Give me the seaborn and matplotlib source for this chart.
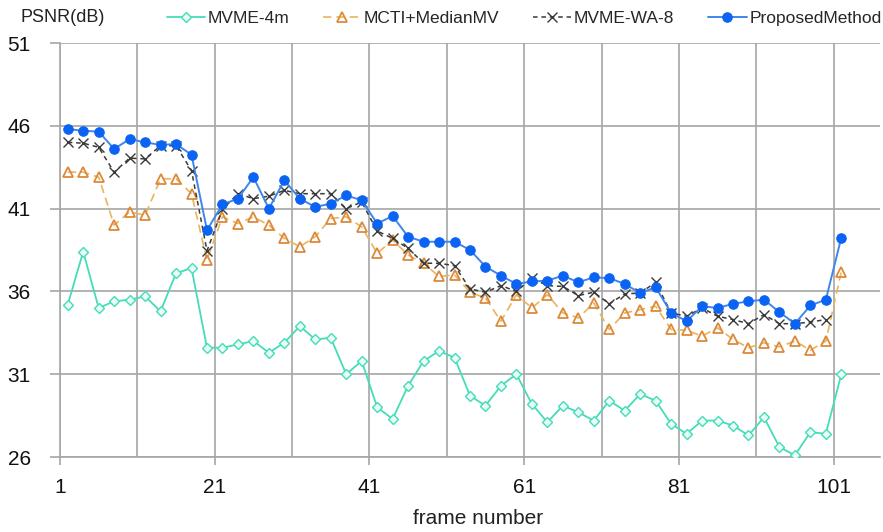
import matplotlib
matplotlib.use("Agg")
import matplotlib.pyplot as plt
from matplotlib.lines import Line2D
from matplotlib.ticker import FixedLocator
import seaborn as sns

# Frame numbers (every other frame) and PSNR (dB) per method
frames = list(range(2, 104, 2))

mvme_4m = [35.2, 38.4, 35.0, 35.4, 35.5, 35.7, 34.8, 37.1, 37.4, 32.6,
           32.6, 32.8, 33.0, 32.3, 32.9, 33.9, 33.1, 33.2, 31.0, 31.8,
           29.0, 28.3, 30.3, 31.8, 32.4, 32.0, 29.7, 29.1, 30.3, 31.0,
           29.2, 28.1, 29.1, 28.7, 28.2, 29.4, 28.8, 29.8, 29.4, 28.0,
           27.4, 28.2, 28.2, 27.9, 27.3, 28.4, 26.6, 26.1, 27.5, 27.4, 31.0]

mcti_median = [43.2, 43.2, 42.9, 40.0, 40.8, 40.6, 42.8, 42.8, 41.9, 37.9,
               40.5, 40.1, 40.5, 40.0, 39.2, 38.7, 39.3, 40.4, 40.5, 39.9,
               38.3, 39.1, 38.2, 37.7, 36.9, 37.0, 35.95, 35.6, 34.2, 35.8,
               35.0, 35.8, 34.7, 34.4, 35.3, 33.7, 34.7, 34.9, 35.1, 33.7,
               33.65, 33.3, 33.8, 33.1, 32.6, 32.9, 32.65, 33.0, 32.45, 33.0, 37.2]

mvme_wa8 = [45.0, 44.95, 44.7, 43.2, 44.05, 44.0, 44.8, 44.8, 43.3, 38.45,
            40.95, 41.9, 41.6, 41.75, 42.1, 41.9, 41.9, 41.9, 41.0, 41.4,
            39.65, 39.2, 38.6, 37.7, 37.7, 37.55, 36.15, 35.95, 36.35, 36.0,
            36.8, 36.35, 36.3, 35.75, 35.95, 35.25, 35.85, 35.9, 36.55, 34.7,
            34.5, 35.0, 34.5, 34.3, 34.05, 34.6, 34.05, 34.05, 34.15, 34.3]

proposed = [45.8, 45.7, 45.65, 44.6, 45.2, 45.0, 44.85, 44.9, 44.25, 39.7,
            41.25, 41.6, 42.9, 41.0, 42.7, 41.6, 41.1, 41.3, 41.8, 41.5,
            40.1, 40.55, 39.3, 39.0, 39.0, 39.0, 38.5, 37.5, 36.95, 36.45,
            36.6, 36.65, 36.95, 36.55, 36.85, 36.8, 36.45, 35.9, 36.25, 34.7,
            34.2, 35.1, 35.0, 35.25, 35.4, 35.5, 34.75, 34.05, 35.15, 35.5, 39.25]

series_names = ["MVME-4m", "MCTI+MedianMV", "MVME-WA-8", "ProposedMethod"]
x_tick_labels = [1, 21, 41, 61, 81, 101]
y_ticks = [26, 31, 36, 41, 46, 51]

sns.set_theme(style="white")
plt.rcParams["font.family"] = ["Liberation Sans", "DejaVu Sans"]

W, H = 883, 532
fig = plt.figure(figsize=(W / 100, H / 100), dpi=100)
ax = fig.add_axes([60 / W, 1 - 457 / H, 820 / W, 414 / H])

grid_c = "#a6a6a6"

teal = "#45dcb8"
gold_line = "#e9b45c"
gold_mk = "#dc8a3a"
dark = "#3a3a3a"
blue_line = "#3f86ec"
blue_mk = "#0b63f4"

styles = [
    dict(color=teal, marker="D", markersize=5.0, markerfacecolor="#e8fbf6",
         markeredgecolor=teal, markeredgewidth=1.0, linewidth=1.3,
         linestyle="-"),
    dict(color=gold_line, marker="^", markersize=6.8, markerfacecolor="none",
         markeredgecolor=gold_mk, markeredgewidth=1.3, linewidth=1.2,
         linestyle=(0, (5, 3))),
    dict(color=dark, marker="x", markersize=6.8, markeredgecolor=dark,
         markeredgewidth=1.0, linewidth=1.1, linestyle=(0, (3, 2.5))),
    dict(color=blue_line, marker="o", markersize=6.8, markerfacecolor=blue_mk,
         markeredgecolor=blue_mk, markeredgewidth=0.8, linewidth=1.4,
         linestyle="-"),
]

values = [mvme_4m, mcti_median, mvme_wa8, proposed]
for name, vals, st in zip(series_names, values, styles):
    sns.lineplot(x=frames[:len(vals)], y=vals, ax=ax, label=name, zorder=3,
                 **st)

ax.set_xlim(1, 107)
ax.set_ylim(26, 51)

ax.xaxis.set_major_locator(FixedLocator(x_tick_labels))
ax.xaxis.set_minor_locator(FixedLocator([11, 31, 51, 71, 91]))
ax.yaxis.set_major_locator(FixedLocator(y_ticks))
ax.set_xticklabels([str(v) for v in x_tick_labels])
ax.set_yticklabels([str(v) for v in y_ticks])

ax.grid(True, which="both", color=grid_c, linewidth=1.2)
ax.set_axisbelow(True)
for s in ["top", "right"]:
    ax.spines[s].set_visible(False)
for s in ["left", "bottom"]:
    ax.spines[s].set_color(grid_c)
    ax.spines[s].set_linewidth(1.2)

ax.tick_params(axis="x", which="major", direction="out", length=6,
               width=1.2, color=grid_c, labelsize=15, pad=9,
               labelcolor="#111111", bottom=True)
ax.tick_params(axis="x", which="minor", length=0)
ax.tick_params(axis="y", direction="out", length=7, width=1.2,
               color=grid_c, labelsize=15, pad=14, labelcolor="#111111",
               left=True)

if ax.get_legend() is not None:
    ax.get_legend().remove()

handles = [Line2D([], [], **st) for st in styles]
fig.legend(handles, series_names, loc="center",
           bbox_to_anchor=(524 / W, 1 - 18 / H), ncol=4, frameon=False,
           fontsize=12.5, handlelength=2.2, handletextpad=0.15,
           columnspacing=1.95, borderaxespad=0, borderpad=0)

fig.text(20 / W, 1 - 17 / H, "PSNR(dB)", fontsize=13, va="center",
         ha="left", color="#222222")
ax.set_xlabel("")
ax.set_ylabel("")
fig.text(478 / W, 1 - 518 / H, "frame number", fontsize=15, va="center",
         ha="center", color="#222222")

fig.savefig("out.png", dpi=100)
